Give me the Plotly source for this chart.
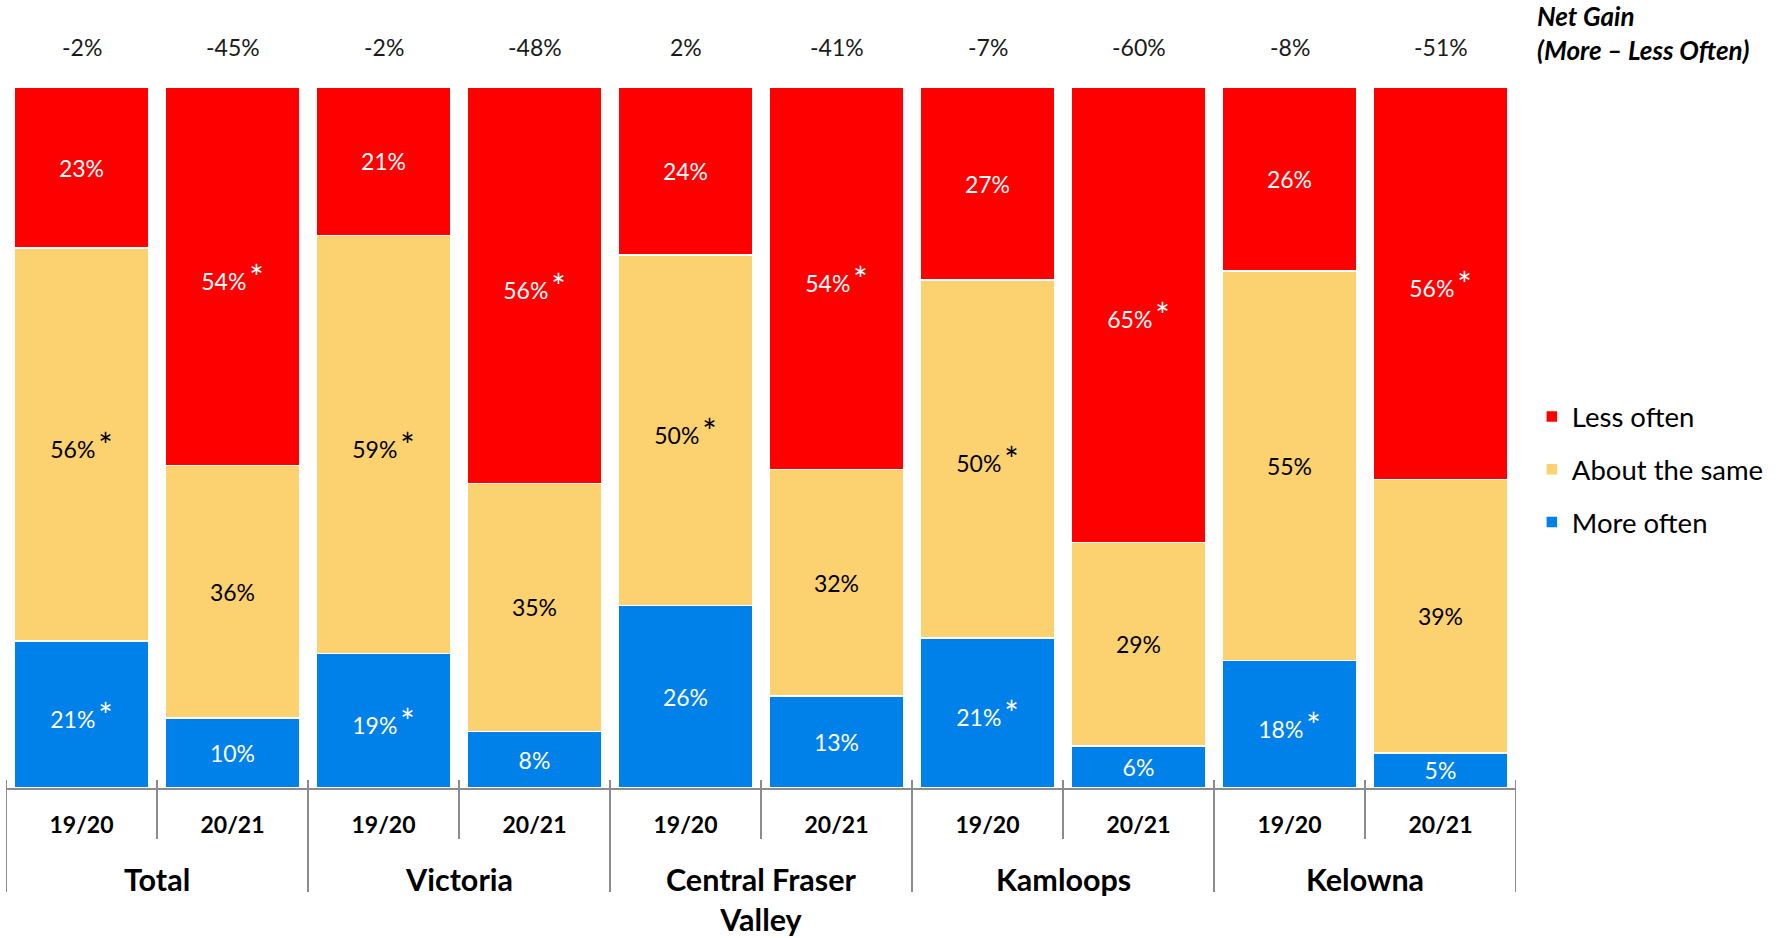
import plotly.graph_objects as go

groups = ["Total", "Total", "Victoria", "Victoria", "Central Fraser<br>Valley", "Central Fraser<br>Valley",
          "Kamloops", "Kamloops", "Kelowna", "Kelowna"]
years = ["19/20", "20/21"] * 5

more_often = [21, 10, 19, 8, 26, 13, 21, 6, 18, 5]
about_same = [56, 36, 59, 35, 50, 32, 50, 29, 55, 39]
less_often = [23, 54, 21, 56, 24, 54, 27, 65, 26, 56]

more_sig = [True, False, True, False, False, False, True, False, True, False]
about_sig = [True, False, True, False, True, False, True, False, False, False]
less_sig = [False, True, False, True, False, True, False, True, False, True]

net_gain = ["-2%", "-45%", "-2%", "-48%", "2%", "-41%", "-7%", "-60%", "-8%", "-51%"]

FONT = "Lato"
RED = "#FF0000"
YELLOW = "#FCD271"
BLUE = "#0080E9"
GREY = "#8C8C8C"

PLOT_H = 701.0  # px height of plot area


def labels(vals, sig):
    star = "\u2009<span style='font-size:34px'>*</span>"
    return [f"{v}%{star}" if s else f"{v}%" for v, s in zip(vals, sig)]


xpos = list(range(len(years)))

fig = go.Figure()
series = [
    ("More often", more_often, more_sig, BLUE, "white", 3),
    ("About the same", about_same, about_sig, YELLOW, "black", 2),
    ("Less often", less_often, less_sig, RED, "white", 1),
]
for name, vals, sig, col, tcol, rank in series:
    fig.add_trace(go.Bar(
        name=name, x=xpos, y=vals, legendrank=rank, legendgroup=name,
        marker=dict(color=col, line=dict(color="white", width=1.5)),
        text=labels(vals, sig), textposition="inside", insidetextanchor="middle",
        textangle=0, constraintext="none",
        textfont=dict(family=FONT, size=23, color=tcol),
        hoverinfo="skip",
    ))

annotations = []
# net gain row above bars
for i, t in enumerate(net_gain):
    annotations.append(dict(
        text=t, x=i, xref="x", y=1 + (87.4 - 47.6) / PLOT_H, yref="paper",
        xanchor="center", yanchor="middle", showarrow=False,
        font=dict(family=FONT, size=23, color="#1a1a1a"),
    ))

# group labels and separators
uniq = []
for g in groups:
    if g not in uniq:
        uniq.append(g)
shapes = []
for g in uniq:
    idx = [i for i, gg in enumerate(groups) if gg == g]
    annotations.append(dict(
        text=f"<b>{g}</b>", x=sum(idx) / len(idx), xref="x",
        y=-(860 - 788.5) / PLOT_H, yref="paper",
        xanchor="center", yanchor="top", showarrow=False,
        font=dict(family=FONT, size=30.5, color="black"),
    ))

for b in range(len(groups) + 1):
    xb = b - 0.5
    is_group_edge = b == 0 or b == len(groups) or groups[b] != groups[b - 1]
    length = 104 if is_group_edge else 51
    shapes.append(dict(
        type="line", xref="x", yref="paper", x0=xb, x1=xb,
        y0=8 / PLOT_H, y1=-length / PLOT_H,
        line=dict(color=GREY, width=2),
    ))

annotations.append(dict(
    text="<b><i>Net Gain<br>(More \u2013 Less Often)</i></b>",
    xref="paper", yref="paper", x=1.0126, y=1 + (87.4 - 33) / PLOT_H,
    xanchor="left", yanchor="middle", align="left", showarrow=False,
    font=dict(family=FONT, size=26, color="black"),
))

fig.update_layout(
    width=1779, height=938,
    margin=dict(l=6, r=263, t=87, b=150, autoexpand=False),
    barmode="stack", barnorm="percent", bargap=0.106,
    plot_bgcolor="white", paper_bgcolor="white",
    font=dict(family=FONT, color="black"),
    showlegend=True,
    legend=dict(
        x=1.0105, y=0.454, xanchor="left", yanchor="middle",
        traceorder="grouped", tracegroupgap=14,
        font=dict(family=FONT, size=27.5, color="black"),
    ),
    annotations=annotations,
    shapes=shapes,
)
fig.update_yaxes(range=[0, 100], visible=False, fixedrange=True)
fig.update_xaxes(
    range=[-0.5, len(years) - 0.5],
    showline=True, linecolor=GREY, linewidth=2,
    tickmode="array", tickvals=xpos, ticktext=[f"<b>{y}</b>" for y in years],
    ticks="", ticklabelstandoff=15, showgrid=False, zeroline=False,
    tickfont=dict(family=FONT, size=23, color="black"),
)

fig.write_html(
    "out.html",
    config={"displayModeBar": False},
    post_script="document.body.style.margin='0px';document.body.style.overflow='hidden';",
)
